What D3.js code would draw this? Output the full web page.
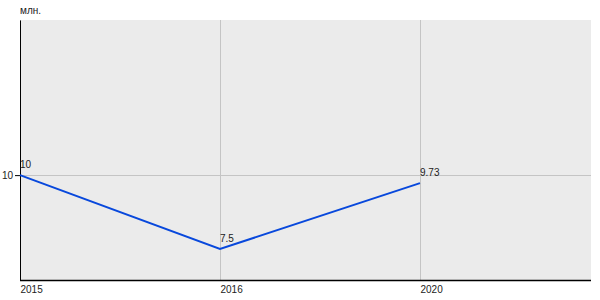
<!DOCTYPE html>
<html>
<head>
<meta charset="utf-8">
<script src="https://cdn.jsdelivr.net/npm/d3@7"></script>
<style>
  body { margin: 0; background: #fff; }
  text { font-family: Arial, "Liberation Sans", sans-serif; font-size: 10px; fill: #222; }
</style>
</head>
<body>
<script>
var years = ["2015", "2016", "2020"]
var values = [10, 7.5, 9.73]
var yTicks = [10]
var unit = "млн."

var margin = {top: 20, right: 9, bottom: 20, left: 20},
    width = 600 - margin.left - margin.right,
    height = 300 - margin.top - margin.bottom

var svg = d3.select("body").append("svg")
    .attr("width", 600)
    .attr("height", 300)

var g = svg.append("g")
    .attr("transform", "translate(" + margin.left + "," + margin.top + ")")

// scales
var x = d3.scalePoint()
    .domain(years)
    .range([0, 400])

var y = d3.scaleLinear()
    .domain([6.45, 15.25])
    .range([height, 0])

// background
g.append("rect")
    .attr("width", width)
    .attr("height", height)
    .attr("fill", "#ebebeb")

// grid
g.selectAll(".vgrid")
    .data(years)
    .enter().append("line")
    .attr("x1", function(d) { return x(d) + 0.5 })
    .attr("x2", function(d) { return x(d) + 0.5 })
    .attr("y1", 0)
    .attr("y2", height)
    .attr("stroke", "#c4c4c4")

g.selectAll(".hgrid")
    .data(yTicks)
    .enter().append("line")
    .attr("x1", 0)
    .attr("x2", width)
    .attr("y1", function(d) { return Math.round(y(d)) + 0.5 })
    .attr("y2", function(d) { return Math.round(y(d)) + 0.5 })
    .attr("stroke", "#c4c4c4")

// axes
var yAxis = g.append("g")
    .call(d3.axisLeft(y).tickValues(yTicks).tickSize(5).tickSizeOuter(0))
yAxis.select(".domain").attr("stroke", "#000")
yAxis.selectAll(".tick line").attr("stroke", "#000")
yAxis.selectAll(".tick text").attr("x", -6).attr("dx", "-0.1em").style("font-size", "10px").attr("fill", "#222")

var xAxis = g.append("g")
    .attr("transform", "translate(0," + height + ")")
    .call(d3.axisBottom(x).tickSize(0).tickSizeOuter(0))
xAxis.select(".domain").attr("d", "M0,0.5H" + width).attr("stroke", "#000").attr("stroke-width", 1.5)
xAxis.selectAll(".tick text")
    .attr("text-anchor", "start")
    .attr("y", 6)
    .style("font-size", "10px")
    .attr("fill", "#222")

// unit label
svg.append("text")
    .attr("x", margin.left)
    .attr("y", 14)
    .text(unit)

// line
var line = d3.line()
    .x(function(d, i) { return x(years[i]) })
    .y(function(d) { return y(d) })

g.append("path")
    .datum(values)
    .attr("fill", "none")
    .attr("stroke", "#0848dc")
    .attr("stroke-width", 2)
    .attr("d", line)

// value labels
g.selectAll(".vlabel")
    .data(values)
    .enter().append("text")
    .attr("x", function(d, i) { return x(years[i]) })
    .attr("y", function(d) { return y(d) - 7 })
    .text(function(d) { return d })
</script>
</body>
</html>
